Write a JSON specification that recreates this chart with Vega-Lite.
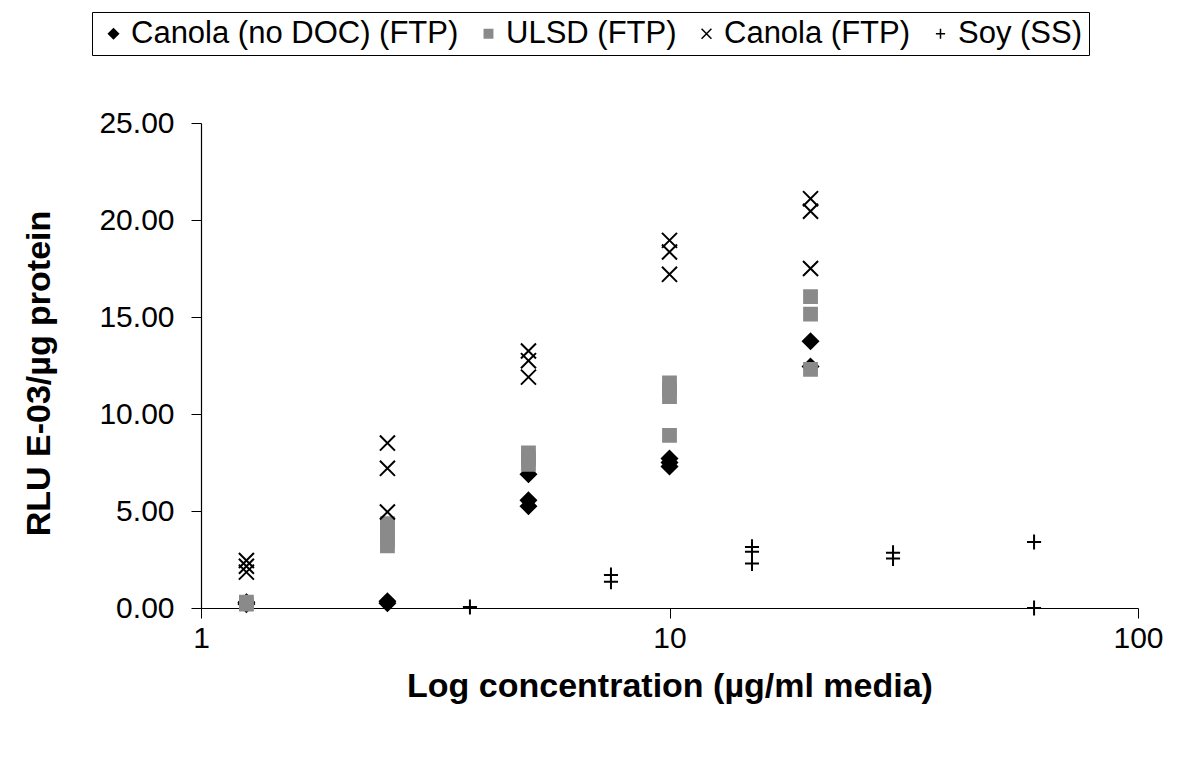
{
  "$schema": "https://vega.github.io/schema/vega-lite/v6.json",
  "width": 937,
  "height": 485,
  "autosize": {"type": "none"},
  "padding": {"left": 201, "top": 123, "right": 43, "bottom": 155},
  "background": "white",
  "config": {"view": {"stroke": null}, "font": "Liberation Sans"},
  "data": {
    "values": [
      {"series": "Canola (no DOC) (FTP)", "conc": 1.25, "rlu": 0.2},
      {"series": "Canola (no DOC) (FTP)", "conc": 1.25, "rlu": 0.3},
      {"series": "Canola (no DOC) (FTP)", "conc": 2.5, "rlu": 0.25},
      {"series": "Canola (no DOC) (FTP)", "conc": 2.5, "rlu": 0.35},
      {"series": "Canola (no DOC) (FTP)", "conc": 5, "rlu": 6.9},
      {"series": "Canola (no DOC) (FTP)", "conc": 5, "rlu": 5.55},
      {"series": "Canola (no DOC) (FTP)", "conc": 5, "rlu": 5.25},
      {"series": "Canola (no DOC) (FTP)", "conc": 10, "rlu": 7.7},
      {"series": "Canola (no DOC) (FTP)", "conc": 10, "rlu": 7.5},
      {"series": "Canola (no DOC) (FTP)", "conc": 10, "rlu": 7.3},
      {"series": "Canola (no DOC) (FTP)", "conc": 20, "rlu": 13.75},
      {"series": "Canola (no DOC) (FTP)", "conc": 20, "rlu": 12.45},
      {"series": "ULSD (FTP)", "conc": 1.25, "rlu": 0.2},
      {"series": "ULSD (FTP)", "conc": 1.25, "rlu": 0.3},
      {"series": "ULSD (FTP)", "conc": 2.5, "rlu": 3.2},
      {"series": "ULSD (FTP)", "conc": 2.5, "rlu": 3.5},
      {"series": "ULSD (FTP)", "conc": 2.5, "rlu": 3.8},
      {"series": "ULSD (FTP)", "conc": 2.5, "rlu": 4.1},
      {"series": "ULSD (FTP)", "conc": 2.5, "rlu": 4.35},
      {"series": "ULSD (FTP)", "conc": 5, "rlu": 7.4},
      {"series": "ULSD (FTP)", "conc": 5, "rlu": 7.7},
      {"series": "ULSD (FTP)", "conc": 5, "rlu": 8.0},
      {"series": "ULSD (FTP)", "conc": 10, "rlu": 11.6},
      {"series": "ULSD (FTP)", "conc": 10, "rlu": 11.25},
      {"series": "ULSD (FTP)", "conc": 10, "rlu": 10.9},
      {"series": "ULSD (FTP)", "conc": 10, "rlu": 8.9},
      {"series": "ULSD (FTP)", "conc": 20, "rlu": 16.05},
      {"series": "ULSD (FTP)", "conc": 20, "rlu": 15.15},
      {"series": "ULSD (FTP)", "conc": 20, "rlu": 12.3},
      {"series": "Canola (FTP)", "conc": 1.25, "rlu": 2.45},
      {"series": "Canola (FTP)", "conc": 1.25, "rlu": 2.15},
      {"series": "Canola (FTP)", "conc": 1.25, "rlu": 1.85},
      {"series": "Canola (FTP)", "conc": 2.5, "rlu": 8.5},
      {"series": "Canola (FTP)", "conc": 2.5, "rlu": 7.2},
      {"series": "Canola (FTP)", "conc": 2.5, "rlu": 4.95},
      {"series": "Canola (FTP)", "conc": 5, "rlu": 13.25},
      {"series": "Canola (FTP)", "conc": 5, "rlu": 12.75},
      {"series": "Canola (FTP)", "conc": 5, "rlu": 11.9},
      {"series": "Canola (FTP)", "conc": 10, "rlu": 18.95},
      {"series": "Canola (FTP)", "conc": 10, "rlu": 18.35},
      {"series": "Canola (FTP)", "conc": 10, "rlu": 17.2},
      {"series": "Canola (FTP)", "conc": 20, "rlu": 21.1},
      {"series": "Canola (FTP)", "conc": 20, "rlu": 20.45},
      {"series": "Canola (FTP)", "conc": 20, "rlu": 17.5},
      {"series": "Soy (SS)", "conc": 3.75, "rlu": 0.05},
      {"series": "Soy (SS)", "conc": 7.5, "rlu": 1.7},
      {"series": "Soy (SS)", "conc": 7.5, "rlu": 1.35},
      {"series": "Soy (SS)", "conc": 15, "rlu": 3.15},
      {"series": "Soy (SS)", "conc": 15, "rlu": 2.9},
      {"series": "Soy (SS)", "conc": 15, "rlu": 2.3},
      {"series": "Soy (SS)", "conc": 30, "rlu": 2.85},
      {"series": "Soy (SS)", "conc": 30, "rlu": 2.55},
      {"series": "Soy (SS)", "conc": 60, "rlu": 3.4},
      {"series": "Soy (SS)", "conc": 60, "rlu": 0.0}
    ]
  },
  "mark": {"type": "point", "size": 256, "strokeWidth": 2, "opacity": 1},
  "encoding": {
    "x": {
      "field": "conc",
      "type": "quantitative",
      "scale": {"type": "log", "domain": [1, 100]},
      "axis": {
        "values": [1, 10, 100],
        "format": "d",
        "grid": false,
        "domainColor": "black",
        "domainWidth": 1.2,
        "tickColor": "black",
        "tickSize": 10,
        "labelFont": "Liberation Sans",
        "labelFontSize": 30,
        "labelColor": "black",
        "labelPadding": 5,
        "labelFlush": false,
        "title": "Log concentration (µg/ml media)",
        "titleFont": "Liberation Sans",
        "titleFontSize": 34,
        "titleFontWeight": "bold",
        "titleColor": "black",
        "titlePadding": 16
      }
    },
    "y": {
      "field": "rlu",
      "type": "quantitative",
      "scale": {"domain": [0, 25], "nice": false, "zero": true},
      "axis": {
        "values": [0, 5, 10, 15, 20, 25],
        "format": ".2f",
        "grid": false,
        "domainColor": "black",
        "domainWidth": 1.2,
        "tickColor": "black",
        "tickSize": 10,
        "labelFont": "Liberation Sans",
        "labelFontSize": 30,
        "labelColor": "black",
        "labelPadding": 17,
        "labelFlush": false,
        "title": "RLU E-03/µg protein",
        "titleFont": "Liberation Sans",
        "titleFontSize": 34,
        "titleFontWeight": "bold",
        "titleColor": "black",
        "titlePadding": 42,
        "titleY": 250
      }
    },
    "shape": {
      "field": "series",
      "type": "nominal",
      "scale": {
        "domain": ["Canola (no DOC) (FTP)", "ULSD (FTP)", "Canola (FTP)", "Soy (SS)"],
        "range": ["M0,-0.95L0.95,0L0,0.95L-0.95,0Z", "M-0.8,-0.8L0.8,-0.8L0.8,0.8L-0.8,0.8Z", "M-0.94,-0.94L0.94,0.94M-0.94,0.94L0.94,-0.94", "M-0.88,0L0.88,0M0,-0.94L0,0.94"]
      },
      "legend": {"title": null, "orient": "none", "legendX": -109, "legendY": -111, "direction": "horizontal", "strokeColor": "black", "fillColor": "white", "padding": 6, "labelFont": "Liberation Sans", "labelFontSize": 31, "labelColor": "black", "labelLimit": 0, "symbolSize": 110, "symbolStrokeWidth": 1.5, "labelOffset": 2, "columnPadding": 14}
    },
    "fill": {
      "field": "series",
      "type": "nominal",
      "scale": {
        "domain": ["Canola (no DOC) (FTP)", "ULSD (FTP)", "Canola (FTP)", "Soy (SS)"],
        "range": ["#000000", "#8a8a8a", "transparent", "transparent"]
      },
      "legend": {"title": null, "orient": "none", "legendX": -109, "legendY": -111, "direction": "horizontal", "strokeColor": "black", "fillColor": "white", "padding": 6, "labelFont": "Liberation Sans", "labelFontSize": 31, "labelColor": "black", "labelLimit": 0, "symbolSize": 110, "symbolStrokeWidth": 1.5, "labelOffset": 2, "columnPadding": 14}
    },
    "stroke": {
      "field": "series",
      "type": "nominal",
      "scale": {
        "domain": ["Canola (no DOC) (FTP)", "ULSD (FTP)", "Canola (FTP)", "Soy (SS)"],
        "range": ["#000000", "#8a8a8a", "#000000", "#000000"]
      },
      "legend": {"title": null, "orient": "none", "legendX": -109, "legendY": -111, "direction": "horizontal", "strokeColor": "black", "fillColor": "white", "padding": 6, "labelFont": "Liberation Sans", "labelFontSize": 31, "labelColor": "black", "labelLimit": 0, "symbolSize": 110, "symbolStrokeWidth": 1.5, "labelOffset": 2, "columnPadding": 14}
    }
  }
}
